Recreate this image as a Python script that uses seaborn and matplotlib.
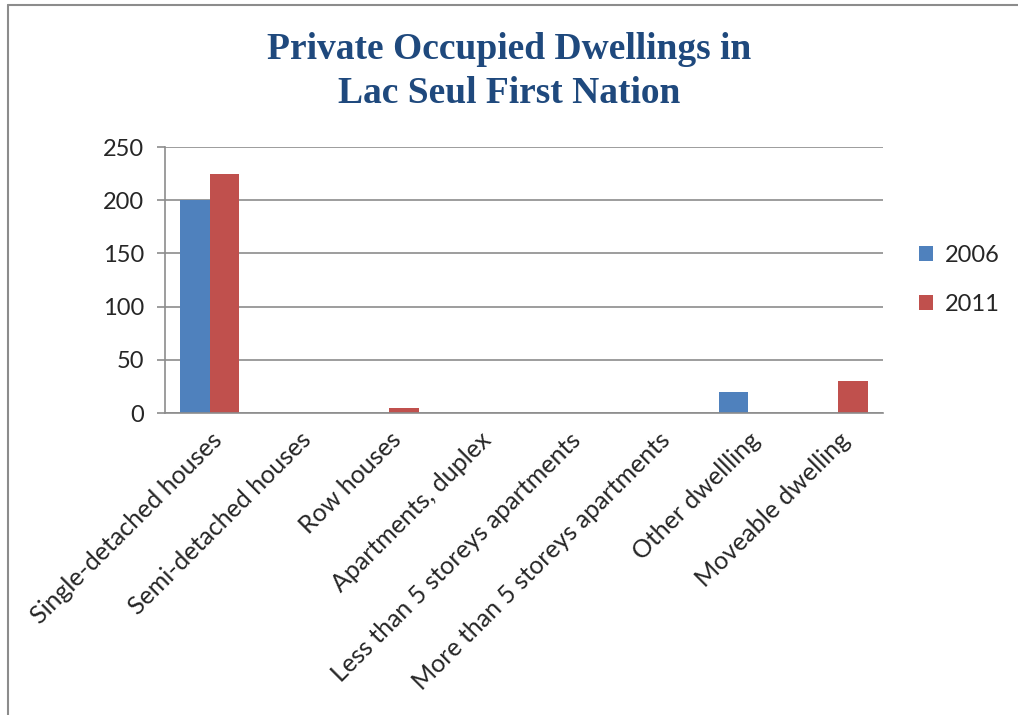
import seaborn as sns
import matplotlib.pyplot as plt
import pandas as pd
from matplotlib.lines import Line2D

categories = ['Single-detached houses', 'Semi-detached houses', 'Row houses',
              'Apartments, duplex', 'Less than 5 storeys apartments',
              'More than 5 storeys apartments', 'Other dwellling', 'Moveable dwelling']
values_2006 = [200, 0, 0, 0, 0, 0, 20, 0]
values_2011 = [225, 0, 5, 0, 0, 0, 0, 30]
years = ['2006', '2011']
colors = ['#4F81BD', '#C0504D']

df = pd.DataFrame({
    'category': categories * 2,
    'value': values_2006 + values_2011,
    'year': [years[0]] * len(categories) + [years[1]] * len(categories),
})

sns.set_style('white')
plt.rcParams['font.family'] = ['Lato', 'DejaVu Sans']

fig = plt.figure(figsize=(10.18, 7.15), dpi=100)
ax = fig.add_axes([165 / 1018, 1 - 413 / 715, (883 - 165) / 1018, (413 - 147) / 715])

sns.barplot(data=df, x='category', y='value', hue='year', palette=colors,
            width=0.66, gap=0, saturation=1, linewidth=0, ax=ax, legend=True)

ax.set_ylim(0, 250)
ax.set_yticks(range(0, 251, 50))
ax.set_xlim(-0.5, len(categories) - 0.5)
ax.yaxis.grid(True, color='#8c8c8c', linewidth=1.2)
ax.set_axisbelow(True)
for s in ['top', 'right']:
    ax.spines[s].set_visible(False)
for s in ['left', 'bottom']:
    ax.spines[s].set_color('#8c8c8c')
    ax.spines[s].set_linewidth(1.2)

ax.set_xticks(range(len(categories)))
ax.set_xticklabels(categories, rotation=45, ha='right', rotation_mode='anchor', fontsize=18)
ax.set_xticks([i - 0.5 for i in range(len(categories) + 1)], minor=True)
ax.tick_params(axis='x', which='major', length=0, pad=11)
ax.tick_params(axis='x', which='minor', length=7, color='#8c8c8c', width=1.2)
ax.tick_params(axis='y', length=6, color='#8c8c8c', width=1.2, labelsize=17, pad=9,
               left=True)
ax.set_xlabel('')
ax.set_ylabel('')

ax.legend(title=None, loc='center left', bbox_to_anchor=(1.02, 0.5), frameon=False,
          fontsize=17, handlelength=0.6, handleheight=0.6, labelspacing=1.2,
          handletextpad=0.5)

fig.text(0.5, 0.9, 'Private Occupied Dwellings in\nLac Seul First Nation',
         ha='center', va='center', fontsize=27, fontweight='bold',
         family=['Liberation Serif', 'DejaVu Serif'], color='#1F497D', linespacing=1.3)

# chart area border
fig.add_artist(Line2D([8 / 1018, 8 / 1018], [0, 1 - 5 / 715], transform=fig.transFigure,
                      color='#8c8c8c', linewidth=1.5))
fig.add_artist(Line2D([8 / 1018, 1], [1 - 5 / 715, 1 - 5 / 715], transform=fig.transFigure,
                      color='#8c8c8c', linewidth=1.5))

fig.savefig('out.png', dpi=100)
